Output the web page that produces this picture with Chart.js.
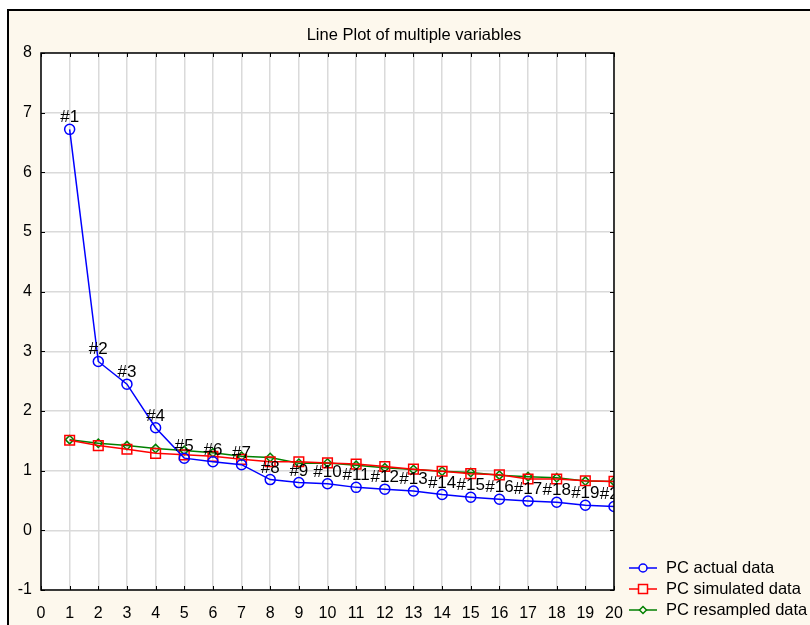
<!DOCTYPE html>
<html>
<head>
<meta charset="utf-8">
<script src="https://cdn.jsdelivr.net/npm/chart.js@4/dist/chart.umd.min.js"></script>
<style>
html,body{margin:0;padding:0;background:#ffffff;}
#wrap{position:relative;width:810px;height:625px;}
</style>
</head>
<body>
<div id="wrap"><canvas id="c" width="810" height="625"></canvas></div>
<script>
const titleText = "Line Plot of multiple variables";
const components = [1,2,3,4,5,6,7,8,9,10,11,12,13,14,15,16,17,18,19,20];
const pointLabels = ["#1","#2","#3","#4","#5","#6","#7","#8","#9","#10","#11","#12","#13","#14","#15","#16","#17","#18","#19","#20"];
const actualData = [6.72,2.83,2.45,1.72,1.21,1.15,1.10,0.85,0.80,0.78,0.72,0.69,0.66,0.60,0.555,0.52,0.49,0.47,0.42,0.40];
const simulatedData = [1.51,1.42,1.36,1.29,1.265,1.24,1.19,1.15,1.15,1.13,1.11,1.07,1.025,0.99,0.95,0.93,0.86,0.86,0.83,0.82];
const resampledData = [1.52,1.46,1.42,1.37,1.34,1.30,1.24,1.22,1.125,1.13,1.09,1.05,1.02,0.99,0.97,0.925,0.90,0.88,0.825,0.82];
const seriesNames = ["PC actual data","PC simulated data","PC resampled data"];
const xTicks = {min:0,max:20,step:1};
const yTicks = {min:-1,max:8,step:1};

const FONT = "'Liberation Sans', Arial, sans-serif";
const BG = "#fdf8ed";

function toXY(vals){ return vals.map((v,i)=>({x:components[i], y:v})); }

const framePlugin = {
  id:'frame',
  beforeDraw(chart){
    const ctx = chart.ctx;
    ctx.save();
    ctx.fillStyle = "#ffffff";
    ctx.fillRect(0,0,chart.width,chart.height);
    ctx.fillStyle = BG;
    ctx.fillRect(8,10,chart.width-8,chart.height-10);
    ctx.strokeStyle = "#000";
    ctx.lineWidth = 2;
    ctx.beginPath();
    ctx.moveTo(8,chart.height);
    ctx.lineTo(8,10);
    ctx.lineTo(chart.width,10);
    ctx.stroke();
    const a = chart.chartArea;
    ctx.fillStyle = "#ffffff";
    ctx.fillRect(a.left,a.top,a.right-a.left,a.bottom-a.top);
    ctx.fillStyle = "#000";
    ctx.font = "16.5px " + FONT;
    ctx.textAlign = "center";
    ctx.textBaseline = "middle";
    ctx.fillText(titleText, 414, 35);
    ctx.restore();
  },
  afterDatasetsDraw(chart){
    const ctx = chart.ctx;
    const a = chart.chartArea;
    const xs = chart.scales.x, ys = chart.scales.y;
    ctx.save();
    ctx.strokeStyle = "#000";
    ctx.lineWidth = 1.5;
    ctx.strokeRect(a.left,a.top,a.right-a.left,a.bottom-a.top);
    ctx.lineWidth = 1;
    ctx.beginPath();
    for(let v=xTicks.min; v<=xTicks.max; v+=xTicks.step){
      const px = Math.round(xs.getPixelForValue(v))+0.5;
      ctx.moveTo(px,a.bottom); ctx.lineTo(px,a.bottom-4);
      ctx.moveTo(px,a.top); ctx.lineTo(px,a.top+4);
    }
    for(let v=yTicks.min; v<=yTicks.max; v+=yTicks.step){
      const py = Math.round(ys.getPixelForValue(v))+0.5;
      ctx.moveTo(a.left,py); ctx.lineTo(a.left+4,py);
      ctx.moveTo(a.right,py); ctx.lineTo(a.right-4,py);
    }
    ctx.stroke();
    ctx.beginPath();
    ctx.rect(a.left,a.top,a.right-a.left,a.bottom-a.top);
    ctx.clip();
    ctx.fillStyle = "#000";
    ctx.font = "17px " + FONT;
    ctx.textAlign = "center";
    ctx.textBaseline = "alphabetic";
    const meta = chart.getDatasetMeta(0);
    meta.data.forEach((pt,i)=>{
      ctx.fillText(pointLabels[i], pt.x, pt.y - 7);
    });
    ctx.restore();
  },
  afterDraw(chart){
    const ctx = chart.ctx;
    ctx.save();
    const ys = [568, 589, 610];
    chart.data.datasets.forEach((ds,i)=>{
      const y = ys[i];
      ctx.strokeStyle = ds.borderColor;
      ctx.lineWidth = 1.5;
      ctx.beginPath();
      ctx.moveTo(629,y); ctx.lineTo(657,y);
      ctx.stroke();
      ctx.fillStyle = BG;
      const cx = 643;
      ctx.beginPath();
      if(ds.pointStyle==='circle'){ ctx.arc(cx,y,4,0,Math.PI*2); }
      else if(ds.pointStyle==='rect'){ ctx.rect(cx-4.5,y-4.5,9,9); }
      else { ctx.moveTo(cx,y-3.5); ctx.lineTo(cx+3.5,y); ctx.lineTo(cx,y+3.5); ctx.lineTo(cx-3.5,y); ctx.closePath(); }
      ctx.fill(); ctx.stroke();
      ctx.fillStyle = "#000";
      ctx.font = "16.5px " + FONT;
      ctx.textAlign = "left";
      ctx.textBaseline = "middle";
      ctx.fillText(ds.label, 666, y);
    });
    ctx.restore();
  }
};

new Chart(document.getElementById('c'), {
  type:'line',
  data:{
    datasets:[
      {label:seriesNames[0], data:toXY(actualData), borderColor:'#0000ff', backgroundColor:'rgba(0,0,0,0)',
       pointStyle:'circle', pointRadius:5, pointBorderWidth:1.5, borderWidth:1.5, pointBackgroundColor:'rgba(0,0,0,0)'},
      {label:seriesNames[1], data:toXY(simulatedData), borderColor:'#ff0000', backgroundColor:'rgba(0,0,0,0)',
       pointStyle:'rect', pointRadius:6.8, pointBorderWidth:1.5, borderWidth:1.5, pointBackgroundColor:'rgba(0,0,0,0)'},
      {label:seriesNames[2], data:toXY(resampledData), borderColor:'#008000', backgroundColor:'rgba(0,0,0,0)',
       pointStyle:'rectRot', pointRadius:4.2, pointBorderWidth:1.5, borderWidth:1.5, pointBackgroundColor:'rgba(0,0,0,0)'}
    ]
  },
  options:{
    responsive:false,
    animation:false,
    layout:{padding:{top:53, right:196, left:0, bottom:0}},
    plugins:{legend:{display:false}, title:{display:false}, tooltip:{enabled:false}},
    scales:{
      x:{type:'linear', min:xTicks.min, max:xTicks.max,
         afterFit(s){ s.height = 35; },
         ticks:{stepSize:xTicks.step, padding:14, color:'#000', font:{family:FONT, size:16}, maxRotation:0, autoSkip:false},
         grid:{color:'#dadada', lineWidth:1.5, drawTicks:false},
         border:{display:false}},
      y:{type:'linear', min:yTicks.min, max:yTicks.max,
         afterFit(s){ s.width = 41; },
         ticks:{stepSize:yTicks.step, padding:9, color:'#000', font:{family:FONT, size:16}},
         grid:{color:'#dadada', lineWidth:1.5, drawTicks:false},
         border:{display:false}}
    }
  },
  plugins:[framePlugin]
});
</script>
</body>
</html>
